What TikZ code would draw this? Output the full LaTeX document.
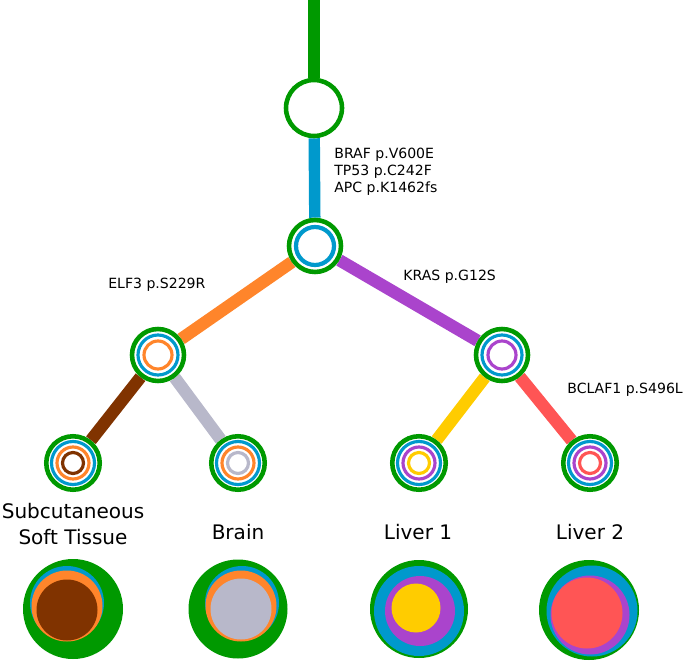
\documentclass[tikz,border=0pt]{standalone}
\usepackage{fontspec}
\setmainfont{DejaVu Sans}
\usetikzlibrary{backgrounds, positioning}
\definecolor{cgreen}{HTML}{009900}
\definecolor{cblue}{HTML}{0099CC}
\definecolor{corange}{HTML}{FF852B}
\definecolor{cpurple}{HTML}{AA44CC}
\definecolor{cbrown}{HTML}{803300}
\definecolor{cgray}{HTML}{B8B8CA}
\definecolor{cyellow}{HTML}{FFCC00}
\definecolor{cred}{HTML}{FF5555}
\tikzset{%
  % Specifications for style of clones:
            clone/.style = {circle, draw=cgreen, fill=white, line width=2.6pt,
                            minimum size=1.04cm, inner sep=0pt},
            leaf/.style = {clone, minimum size=1.07cm},
            ring/.style = {line width=1.8pt},
            branch/.style = {line width=7pt},
            mut/.style = {font=\fontsize{8}{9.6}\selectfont, align=left,
                            anchor=west, inner sep=0pt},
            site/.style = {font=\fontsize{11.4}{14.6}\selectfont, align=center,
                            inner sep=0pt}
}
\begin{document}
\begin{tikzpicture}[x=0.02cm, y=-0.02cm]
                \useasboundingbox (0,0) rectangle (685,662);

                \coordinate (root) at (314,0);
                \node[clone, minimum size=1.12cm] (n1) at (314,108) {};
                \node[clone] (n2) at (315,246) {};
                \node[clone] (n3) at (158,355) {};
                \node[clone] (n4) at (502,355) {};
                \node[leaf] (l1) at (73,463) {};
                \node[leaf] (l2) at (238,463) {};
                \node[leaf] (l3) at (419,463) {};
                \node[leaf] (l4) at (590,463) {};

                \begin{scope}[on background layer]
                \draw[branch, cgreen, line width=6.8pt] (root) -- (n1);
                \draw[branch, cblue, line width=6.5pt] (n1) -- (n2);
                \draw[branch, corange] (n2) -- (n3);
                \draw[branch, cpurple] (n2) -- (n4);
                \draw[branch, cbrown] (n3) -- (l1);
                \draw[branch, cgray] (n3) -- (l2);
                \draw[branch, cyellow] (n4) -- (l3);
                \draw[branch, cred] (n4) -- (l4);
                \end{scope}

                \draw[ring, cblue, line width=2.4pt] (n2.center) circle (19);
                \foreach \n/\c in {n3/corange, n4/cpurple}{
                    \draw[ring, cblue] (\n.center) circle (20);
                    \draw[ring, \c] (\n.center) circle (14);
                }
                \foreach \n/\a/\b in {l1/corange/cbrown, l2/corange/cgray,
                                      l3/cpurple/cyellow, l4/cpurple/cred}{
                    \draw[ring, cblue] (\n.center) circle (21.5);
                    \draw[ring, \a] (\n.center) circle (16);
                    \draw[ring, \b] (\n.center) circle (10.5);
                }

                \node[mut] (m1) at (334,172) {BRAF p.V600E\\TP53 p.C242F\\APC p.K1462fs};
                \node[mut] (m2) at (108,285) {ELF3 p.S229R};
                \node[mut] (m3) at (403,277) {KRAS p.G12S};
                \node[mut] (m4) at (567,390) {BCLAF1 p.S496L};

                \node[site] (s1) at (73,524) {Subcutaneous\\Soft Tissue};
                \node[site] (s2) at (238,532) {Brain};
                \node[site] (s3) at (418,532) {Liver 1};
                \node[site] (s4) at (590,532) {Liver 2};

                % tumour samples
                \fill[cgreen] (73,609) circle (50);
                \fill[cblue] (67,603) circle (37);
                \fill[corange] (67,606) circle (35.5);
                \fill[cbrown] (67,610) circle (30.5);

                \fill[cgreen] (238,609) circle (49.5);
                \fill[cblue] (242,603) circle (37);
                \fill[corange] (241,606) circle (35.5);
                \fill[cgray] (241,609) circle (30.5);

                \fill[cgreen] (419,609) circle (49);
                \fill[cblue] (419,611) circle (45);
                \fill[cpurple] (420,611) circle (35);
                \fill[cyellow] (416,608) circle (24.5);

                \fill[cgreen] (589,610) circle (50);
                \fill[cblue] (592,611) circle (45.5);
                \fill[cpurple] (590,615) circle (39.5);
                \fill[cred] (587,613) circle (35.5);

            \end{tikzpicture}
\end{document}
